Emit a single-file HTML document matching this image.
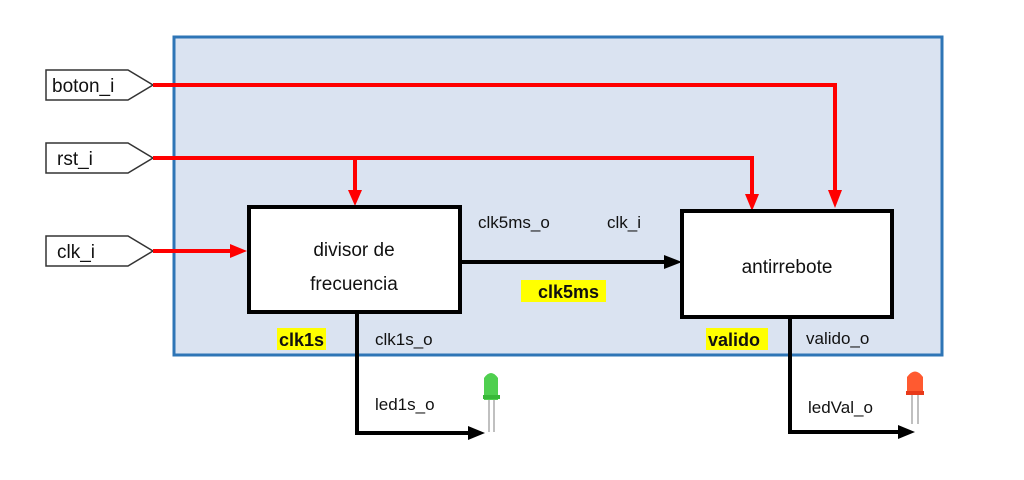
<!DOCTYPE html>
<html><head><meta charset="utf-8">
<style>
html,body{margin:0;padding:0;background:#fff;}
svg{display:block;}
text{font-family:"Liberation Sans",sans-serif;}
</style></head>
<body>
<svg width="1024" height="480" viewBox="0 0 1024 480" xmlns="http://www.w3.org/2000/svg">
<defs>
<marker id="ar" markerWidth="8" markerHeight="8" refX="7" refY="4" orient="auto" markerUnits="userSpaceOnUse">
</marker>
</defs>
<rect x="0" y="0" width="1024" height="480" fill="#fff"/>
<rect x="174" y="37" width="768" height="318" fill="#dae3f1" stroke="#2e75b6" stroke-width="3"/>

<!-- input pins -->
<g fill="#fff" stroke="#333" stroke-width="1.5">
<polygon points="46,70 128,70 153,85 128,100 46,100"/>
<polygon points="46,143 128,143 153,158 128,173 46,173"/>
<polygon points="46,236 128,236 153,251 128,266 46,266"/>
</g>
<g font-size="19" fill="#111">
<text x="52" y="92">boton_i</text>
<text x="57" y="165">rst_i</text>
<text x="57" y="258">clk_i</text>
</g>

<!-- red lines -->
<g stroke="#f00" stroke-width="4" fill="none">
<polyline points="153,85 835,85 835,192"/>
<polyline points="153,158 752,158 752,196"/>
<line x1="355" y1="158" x2="355" y2="192"/>
<line x1="153" y1="251" x2="232" y2="251"/>
</g>
<g fill="#f00">
<polygon points="828,190 842,190 835,208"/>
<polygon points="745,194 759,194 752,211"/>
<polygon points="348,190 362,190 355,206"/>
<polygon points="230,244 230,258 247,251"/>
</g>

<!-- blocks -->
<rect x="249" y="207" width="211" height="105" fill="#fff" stroke="#000" stroke-width="4"/>
<rect x="682" y="211" width="210" height="106" fill="#fff" stroke="#000" stroke-width="4"/>
<g font-size="19" fill="#111" text-anchor="middle">
<text x="354" y="256">divisor de</text>
<text x="354" y="290">frecuencia</text>
<text x="787" y="273">antirrebote</text>
</g>

<!-- black lines -->
<g stroke="#000" stroke-width="4" fill="none">
<line x1="460" y1="262" x2="666" y2="262"/>
<polyline points="357,312 357,433 470,433"/>
<polyline points="790,317 790,432 900,432"/>
</g>
<g fill="#000">
<polygon points="664,255 664,269 682,262"/>
<polygon points="468,426 468,440 485,433"/>
<polygon points="898,425 898,439 915,432"/>
</g>

<!-- labels -->
<rect x="521" y="280" width="85" height="22" fill="#ffff00"/>
<rect x="277" y="328" width="49" height="22" fill="#ffff00"/>
<rect x="706" y="328" width="62" height="22" fill="#ffff00"/>
<g font-size="17" fill="#111">
<text x="478" y="228">clk5ms_o</text>
<text x="607" y="228">clk_i</text>
<text x="375" y="345">clk1s_o</text>
<text x="806" y="344">valido_o</text>
<text x="375" y="410">led1s_o</text>
<text x="808" y="413">ledVal_o</text>
</g>
<g font-size="18" font-weight="bold" fill="#111">
<text x="538" y="298">clk5ms</text>
<text x="279" y="346">clk1s</text>
<text x="708" y="346">valido</text>
</g>

<!-- LEDs -->
<g>
<line x1="489" y1="398" x2="489" y2="432" stroke="#aaa" stroke-width="1.5"/>
<line x1="494" y1="398" x2="494" y2="432" stroke="#aaa" stroke-width="1.5"/>
<path d="M484,400 L484,378 Q491,368 498,378 L498,400 Z" fill="#4fcf4f"/>
<rect x="483" y="395" width="17" height="4" fill="#38b838"/>
<line x1="912" y1="393" x2="912" y2="424" stroke="#aaa" stroke-width="1.5"/>
<line x1="918" y1="393" x2="918" y2="424" stroke="#aaa" stroke-width="1.5"/>
<path d="M907,395 L907,377 Q915,366 923,377 L923,395 Z" fill="#ff5a30"/>
<rect x="906" y="391" width="18" height="4" fill="#e83a1a"/>
</g>
</svg>
</body></html>
